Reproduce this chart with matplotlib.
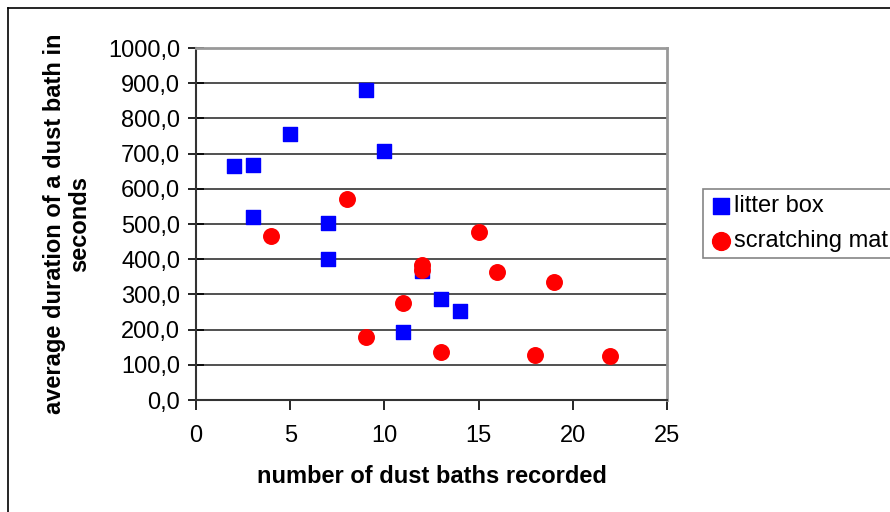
import matplotlib
matplotlib.use("Agg")
import matplotlib.pyplot as plt
from matplotlib.lines import Line2D
from matplotlib.ticker import FuncFormatter

plt.rcParams['font.family'] = ['Liberation Sans', 'DejaVu Sans']

# litter box
box_x = [2, 3, 3, 5, 7, 7, 9, 10, 11, 12, 13, 14]
box_y = [665, 668, 521, 757, 502, 400, 880, 706, 194, 367, 286, 254]

# scratching mat
mat_x = [4, 8, 9, 11, 12, 12, 13, 15, 16, 18, 19, 22]
mat_y = [467, 571, 178, 275, 383, 370, 137, 477, 365, 129, 336, 125]

x_ticks = [0, 5, 10, 15, 20, 25]
y_ticks = list(range(0, 1001, 100))

fig = plt.figure(figsize=(8.9, 5.12), dpi=100)
ax = fig.add_axes([196/890, 1 - 400/512, 471/890, 352/512])

ax.scatter(box_x, box_y, marker='s', s=105, color='#0000ff', label='litter box', zorder=3)
ax.scatter(mat_x, mat_y, marker='o', s=125, color='#ff0000', label='scratching mat', zorder=3)

ax.set_xlim(0, 25)
ax.set_ylim(0, 1000)
ax.set_xticks(x_ticks)
ax.set_yticks(y_ticks)
ax.yaxis.set_major_formatter(FuncFormatter(lambda v, p: ('%.1f' % v).replace('.', ',')))
ax.tick_params(axis='x', labelsize=17, length=7, width=1.2, direction='out', pad=11)
ax.tick_params(axis='y', labelsize=17, length=11, width=1.2, direction='inout', pad=6)

for v in y_ticks[1:-1]:
    ax.axhline(v, color='#333333', lw=1.2, zorder=1)

for s in ['top', 'right']:
    ax.spines[s].set_color('#999999')
    ax.spines[s].set_linewidth(2)
for s in ['left', 'bottom']:
    ax.spines[s].set_color('#333333')
    ax.spines[s].set_linewidth(1.5)

ax.set_xlabel('number of dust baths recorded', fontsize=17, fontweight='bold', labelpad=13)
ax.set_ylabel('average duration of a dust bath in\nseconds', fontsize=17, fontweight='bold',
              labelpad=12, linespacing=1.15)

leg = fig.legend(loc='upper left', bbox_to_anchor=(703/890, 1 - 189/512), fontsize=17,
                 frameon=True, fancybox=False, edgecolor='#666666', handletextpad=0.05,
                 borderpad=0.25, labelspacing=0.55, handlelength=1.0, borderaxespad=0,
                 markerscale=1.15)
leg.get_frame().set_linewidth(1.2)

# outer frame of the chart area
fig.add_artist(Line2D([8/890, 1.1], [1 - 8/512, 1 - 8/512], color='black', lw=1.2))
fig.add_artist(Line2D([8/890, 8/890], [1 - 8/512, -0.1], color='black', lw=1.2))

fig.savefig('out.png', dpi=100)
